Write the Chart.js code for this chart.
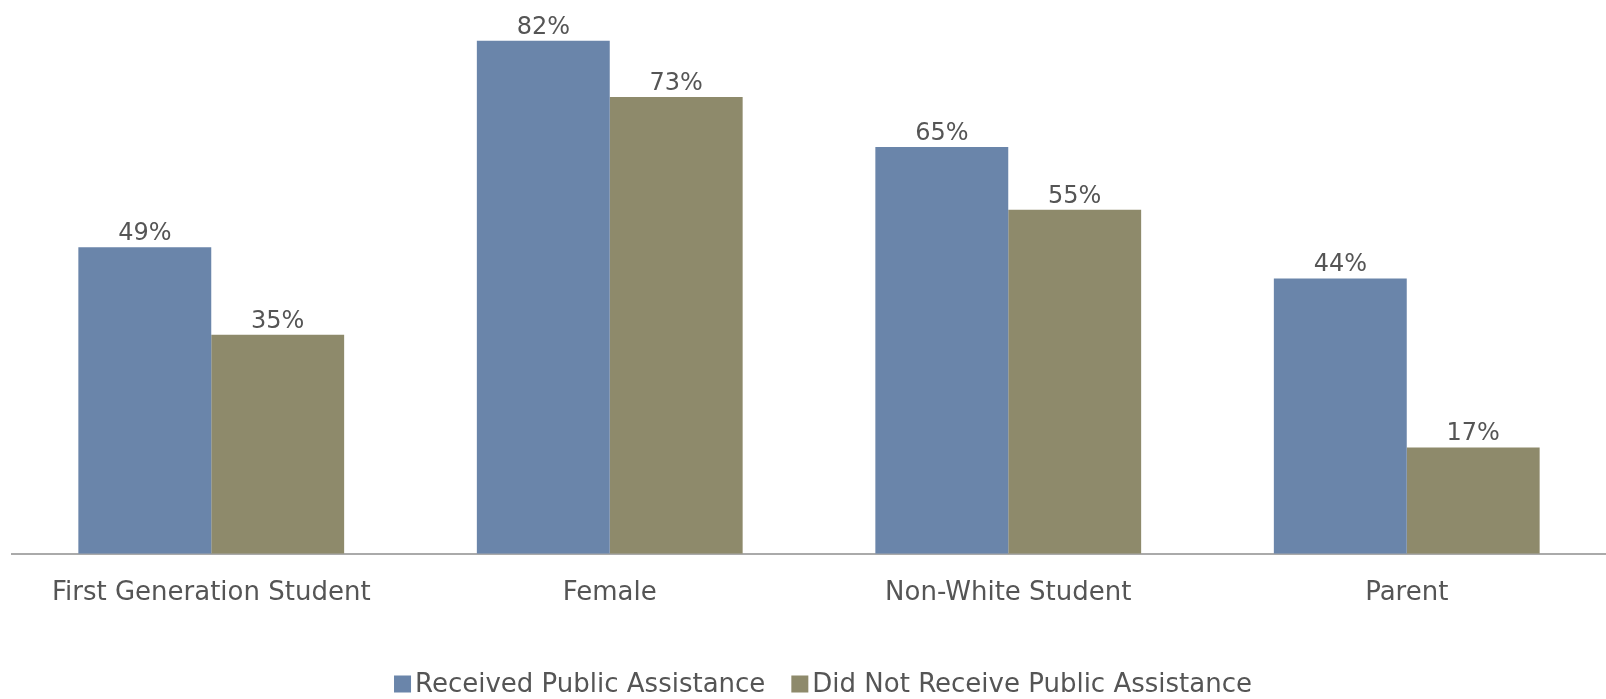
<!DOCTYPE html>
<html>
<head>
<meta charset="utf-8">
<script src="https://cdn.jsdelivr.net/npm/chart.js@4/dist/chart.umd.min.js"></script>
<style>
  html, body { margin: 0; padding: 0; background: #ffffff; }
  #wrap { width: 1606px; height: 699px; position: relative; }
</style>
</head>
<body>
<div id="wrap"><canvas id="myChart"></canvas></div>
<script>
// Groups along the x axis
const categories = ['First Generation Student', 'Female', 'Non-White Student', 'Parent'];
// Percent of students in each group
const receivedValues = [49, 82, 65, 44];
const notReceivedValues = [35, 73, 55, 17];
const seriesNames = ['Received Public Assistance', 'Did Not Receive Public Assistance'];

const FONT = '"DejaVu Sans", sans-serif';
const TEXT_COLOR = '#555555';

// Prints the percentage above each bar
const valueLabels = {
    id: 'valueLabels',
    afterDatasetsDraw(chart) {
        const ctx = chart.ctx;
        ctx.save();
        ctx.font = '24px ' + FONT;
        ctx.fillStyle = TEXT_COLOR;
        ctx.textAlign = 'center';
        ctx.textBaseline = 'alphabetic';
        chart.data.datasets.forEach((ds, i) => {
            chart.getDatasetMeta(i).data.forEach((bar, j) => {
                ctx.fillText(ds.data[j] + '%', bar.x, bar.y - 7);
            });
        });
        ctx.restore();
    }
};

// Square swatches right next to the series names, a little right of centre
const squareLegend = {
    id: 'squareLegend',
    afterDraw(chart) {
        const ctx = chart.ctx;
        ctx.save();
        ctx.font = '26px ' + FONT;
        ctx.textBaseline = 'middle';
        const box = 17, gapText = 4, gapItem = 26;
        const items = chart.data.datasets.map(ds => ({
            color: ds.backgroundColor,
            label: ds.label,
            w: box + gapText + ctx.measureText(ds.label).width
        }));
        const total = items.reduce((s, it) => s + it.w, 0) + gapItem * (items.length - 1);
        let x = (chart.width - total) / 2 + 20;
        const y = 684;
        items.forEach(it => {
            ctx.fillStyle = it.color;
            ctx.fillRect(x, y - box / 2, box, box);
            ctx.fillStyle = TEXT_COLOR;
            ctx.fillText(it.label, x + box + gapText, y + 1);
            x += it.w + gapItem;
        });
        ctx.restore();
    }
};

const data = {
    labels: categories,
    datasets: [
        {
            label: seriesNames[0],
            data: receivedValues,
            backgroundColor: '#6a85aa',
            barPercentage: 1.0,
            categoryPercentage: 0.667
        },
        {
            label: seriesNames[1],
            data: notReceivedValues,
            backgroundColor: '#8e8a6b',
            barPercentage: 1.0,
            categoryPercentage: 0.667
        }
    ]
};

const config = {
    type: 'bar',
    data: data,
    options: {
        responsive: true,
        maintainAspectRatio: false,
        animation: false,
        layout: {
            padding: { top: 0, left: 12, right: 0, bottom: 74 }
        },
        plugins: {
            legend: { display: false },
            tooltip: { enabled: false }
        },
        scales: {
            x: {
                grid: { display: false },
                border: { display: true, color: '#aaaaaa', width: 2 },
                ticks: {
                    color: TEXT_COLOR,
                    font: { family: FONT, size: 26 },
                    padding: 16,
                    maxRotation: 0
                }
            },
            y: {
                display: false,
                min: 0,
                max: 88.5
            }
        }
    },
    plugins: [valueLabels, squareLegend]
};

const myChart = new Chart(document.getElementById('myChart'), config);
</script>
</body>
</html>
